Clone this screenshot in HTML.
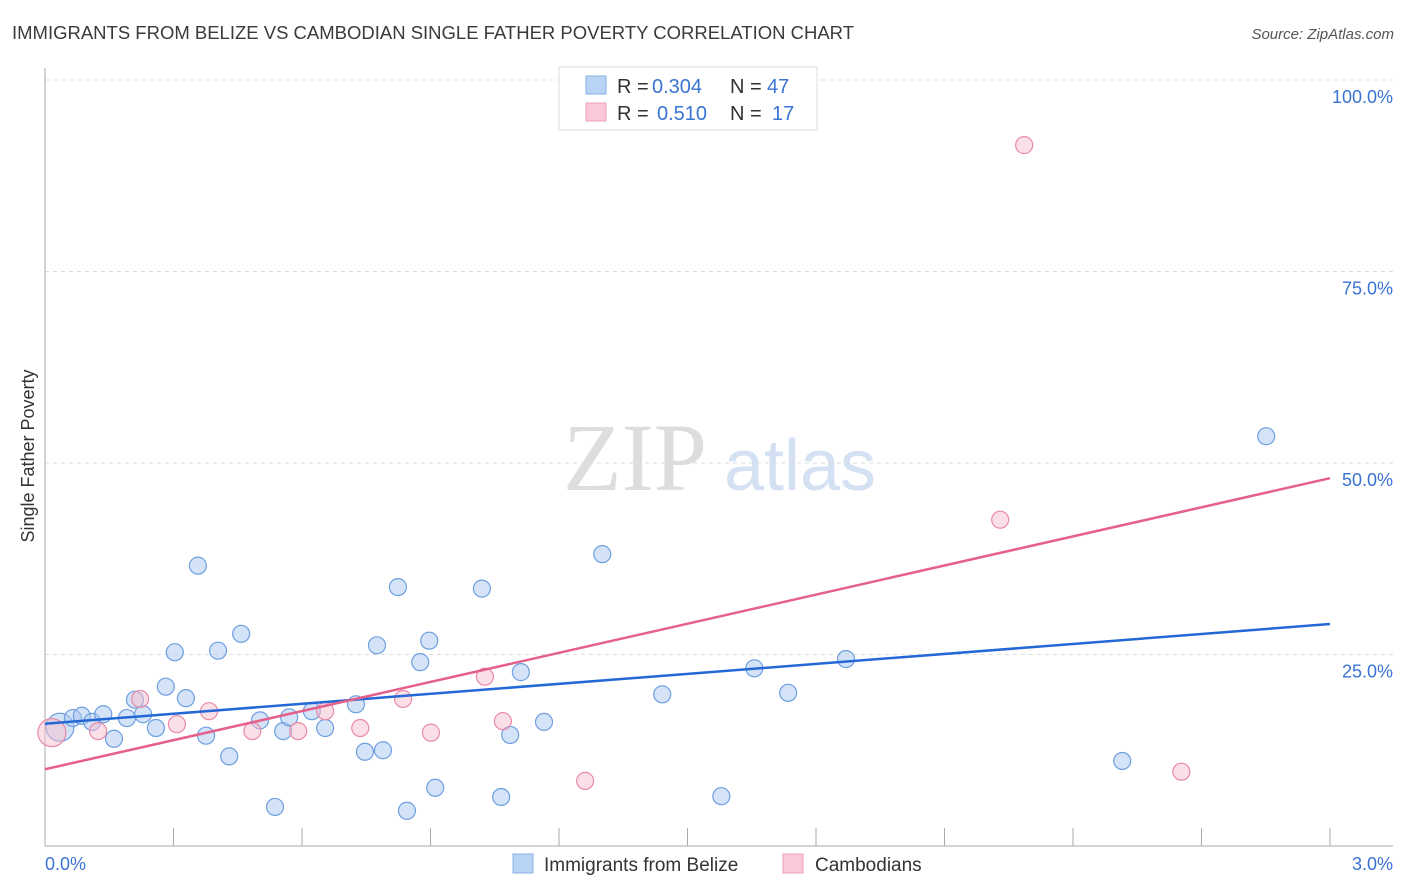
<!DOCTYPE html>
<html><head><meta charset="utf-8"><style>
body{margin:0;background:#fff;font-family:"Liberation Sans",sans-serif;}
svg{display:block}
</style></head><body>
<svg id="chart" width="1406" height="892">
<text x="12" y="39" font-size="18" fill="#3a3a3a" textLength="842" lengthAdjust="spacingAndGlyphs">IMMIGRANTS FROM BELIZE VS CAMBODIAN SINGLE FATHER POVERTY CORRELATION CHART</text>
<text x="1394" y="39" font-size="15" fill="#555" font-style="italic" text-anchor="end">Source: ZipAtlas.com</text>
<g>
<text x="635" y="490" font-size="96" fill="#ddd" font-family="Liberation Serif,serif" text-anchor="middle">ZIP</text>
<text x="800" y="490" font-size="72" fill="#d3e1f3" text-anchor="middle">atlas</text>
</g>
<g id="grid"></g>
<g id="axes"></g>
<g id="marks"></g>
<text transform="translate(34,456) rotate(-90)" font-size="18" fill="#333" text-anchor="middle">Single Father Poverty</text>
<g>
<rect x="559" y="67" width="258" height="63" fill="#fff" stroke="#ddd"/>
<rect x="586" y="76" width="20" height="18" fill="#b9d3f5" stroke="#8ab0e6"/>
<rect x="586" y="103" width="20" height="18" fill="#fbc8d7" stroke="#ec9fb8"/>
<text x="617" y="93" font-size="20" fill="#333">R =</text>
<text x="652" y="93" font-size="20" fill="#3a73d4">0.304</text>
<text x="730" y="93" font-size="20" fill="#333">N =</text>
<text x="767" y="93" font-size="20" fill="#3a73d4">47</text>
<text x="617" y="120" font-size="20" fill="#333">R =</text>
<text x="657" y="120" font-size="20" fill="#3a73d4">0.510</text>
<text x="730" y="120" font-size="20" fill="#333">N =</text>
<text x="772" y="120" font-size="20" fill="#3a73d4">17</text>
</g>
<g>
<rect x="513" y="854" width="20" height="19" fill="#b9d3f5" stroke="#8ab0e6"/>
<text x="544" y="871" font-size="19" fill="#333">Immigrants from Belize</text>
<rect x="783" y="854" width="20" height="19" fill="#fbc8d7" stroke="#ec9fb8"/>
<text x="815" y="871" font-size="19" fill="#333">Cambodians</text>
</g>
</svg>
<script>
const blueX=[0.035,0.065,0.086,0.11,0.136,0.161,0.191,0.21,0.229,0.259,0.282,0.303,0.329,0.357,0.376,0.404,0.43,0.458,0.502,0.537,0.556,0.57,0.623,0.654,0.726,0.747,0.775,0.789,0.824,0.845,0.876,0.897,0.911,1.02,1.065,1.086,1.111,1.165,1.301,1.441,1.579,1.656,1.735,1.87,2.515,2.851];
const blueY=[15.5,16.7,17.0,16.2,17.2,14.0,16.7,19.1,17.2,15.4,20.8,25.3,19.3,36.6,14.4,25.5,11.7,27.7,16.4,5.1,15.0,16.8,17.6,15.4,18.5,12.3,26.2,12.5,33.8,4.6,24.0,26.8,7.6,33.6,6.4,14.5,22.7,16.2,38.1,19.8,6.5,23.2,20.0,24.4,11.1,53.5];
const pinkX=[0.016,0.124,0.222,0.308,0.383,0.484,0.591,0.654,0.736,0.836,0.901,1.027,1.069,1.261,2.23,2.286,2.653];
const pinkY=[14.8,15.0,19.2,15.9,17.6,15.0,15.0,17.6,15.4,19.2,14.8,22.1,16.3,8.5,42.6,91.5,9.7];
const yTicks=[25,50,75,100];
const yTickLabels=["25.0%","50.0%","75.0%","100.0%"];
const xTickLabels=["0.0%","3.0%"];
const NS="http://www.w3.org/2000/svg";
const X=v=>45+v/3*1285, Y=v=>846-v/100*766;
function mk(tag,at,parent){const e=document.createElementNS(NS,tag);for(const k in at)e.setAttribute(k,at[k]);document.getElementById(parent).appendChild(e);return e;}
yTicks.forEach((t,i)=>{
 const l=mk('line',{x1:45,x2:1393,y1:Y(t),y2:Y(t),stroke:'#ddd','stroke-dasharray':'4 4'},'grid');
 
 
 const tx=mk('text',{x:1393,y:Y(t)+23,'font-size':18,fill:'#3a73d4','text-anchor':'end'},'axes');tx.textContent=yTickLabels[i];
 
 
});
mk('line',{x1:45,x2:45,y1:68,y2:846,stroke:'#aaa'},'axes');
mk('line',{x1:45,x2:1393,y1:846,y2:846,stroke:'#aaa'},'axes');
for(let i=1;i<=10;i++){const xx=45+i*128.5;mk('line',{x1:xx,x2:xx,y1:828,y2:846,stroke:'#aaa'},'axes');}
[[0,'start',45],[3,'end',1393]].forEach((d,i)=>{const t=mk('text',{x:d[2],y:870,'font-size':18,fill:'#3a73d4','text-anchor':d[1]},'axes');t.textContent=xTickLabels[i];
 
 });
function pts(xs,ys,fill,stroke,name){xs.forEach((x,i)=>{const c=mk('circle',{cx:X(x),cy:Y(ys[i]),r:i==0?14:8.5,fill:fill,'fill-opacity':0.5,stroke:stroke,'stroke-width':1.2},'marks');
 
 });}
function fit(xs,ys){const n=xs.length;let mx=0,my=0;for(let i=0;i<n;i++){mx+=xs[i];my+=ys[i];}mx/=n;my/=n;let sxy=0,sxx=0;for(let i=0;i<n;i++){sxy+=(xs[i]-mx)*(ys[i]-my);sxx+=(xs[i]-mx)**2;}const b=sxy/sxx;return [my-b*mx,b];}
pts(blueX,blueY,'#a9c8f0','#6e9fe0','belize-point');
pts(pinkX,pinkY,'#f7bfd0','#e88aa8','cambodian-point');
[[blueX,blueY,'#2468d6','belize-trendline'],[pinkX,pinkY,'#e5608a','cambodian-trendline']].forEach(s=>{const [a,b]=fit(s[0],s[1]);const l=mk('line',{x1:X(0),y1:Y(a),x2:X(3),y2:Y(a+b*3),stroke:s[2],'stroke-width':2.5},'marks');
 
 });
</script>
</body></html>
